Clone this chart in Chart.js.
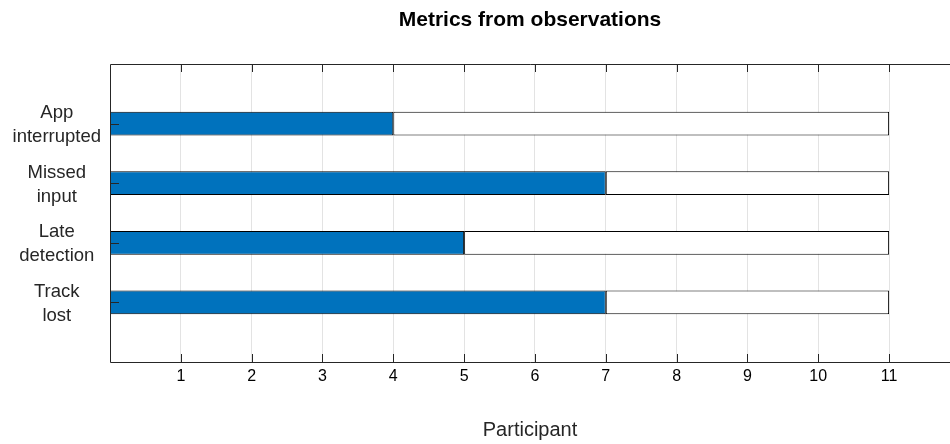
<!DOCTYPE html>
<html>
<head>
<meta charset="utf-8">
<title>Metrics from observations</title>
<script src="https://cdn.jsdelivr.net/npm/chart.js@4/dist/chart.umd.min.js"></script>
<style>
  html, body { margin: 0; padding: 0; background: #fff; }
  #wrap { position: relative; width: 950px; height: 444px; }
</style>
</head>
<body>
<div id="wrap"><canvas id="metrics"></canvas></div>
<script>
// categories listed bottom to top
const categories = [['Track', 'lost'], ['Late', 'detection'], ['Missed', 'input'], ['App', 'interrupted']];
const observedCounts = [7, 5, 7, 4];
const remainingCounts = [4, 6, 4, 7];
const participantTicks = [1, 2, 3, 4, 5, 6, 7, 8, 9, 10, 11];

const FONT = '"Liberation Sans", Arial, Helvetica, sans-serif';
const AXIS_COLOR = '#262626';

const rows = categories.map((_, i) => i + 1);

// MATLAB style box: top/left/bottom axis lines with inward ticks, plus the title
const axesBox = {
  id: 'axesBox',
  afterDraw(chart) {
    const { ctx, chartArea: a, scales: { x, y } } = chart;
    ctx.save();
    ctx.strokeStyle = AXIS_COLOR;
    ctx.lineWidth = 1;
    ctx.beginPath();
    ctx.moveTo(a.right, a.top + 0.5);
    ctx.lineTo(a.left + 0.5, a.top + 0.5);
    ctx.lineTo(a.left + 0.5, a.bottom + 0.5);
    ctx.lineTo(a.right, a.bottom + 0.5);
    participantTicks.forEach(v => {
      const px = Math.round(x.getPixelForValue(v)) + 0.5;
      ctx.moveTo(px, a.top);
      ctx.lineTo(px, a.top + 8);
      ctx.moveTo(px, a.bottom);
      ctx.lineTo(px, a.bottom - 8);
    });
    rows.forEach(v => {
      const py = Math.round(y.getPixelForValue(v)) + 0.5;
      ctx.moveTo(a.left, py);
      ctx.lineTo(a.left + 9, py);
    });
    ctx.stroke();

    ctx.fillStyle = '#000';
    ctx.font = 'bold 21px ' + FONT;
    ctx.textAlign = 'center';
    ctx.textBaseline = 'middle';
    ctx.fillText('Metrics from observations', (a.left + a.right) / 2, 20);
    ctx.restore();
  }
};

new Chart(document.getElementById('metrics'), {
  type: 'bar',
  data: {
    datasets: [
      {
        label: 'Observed',
        data: rows.map((r, i) => ({ x: observedCounts[i], y: r })),
        backgroundColor: '#0072BD',
        borderColor: '#000',
        borderWidth: 1,
        borderSkipped: false,
        barPercentage: 0.4,
        categoryPercentage: 1
      },
      {
        label: 'Remaining',
        data: rows.map((r, i) => ({ x: remainingCounts[i], y: r })),
        backgroundColor: '#fff',
        borderColor: '#000',
        borderWidth: 1,
        borderSkipped: false,
        barPercentage: 0.4,
        categoryPercentage: 1
      }
    ]
  },
  options: {
    indexAxis: 'y',
    responsive: true,
    maintainAspectRatio: false,
    animation: false,
    events: [],
    layout: { padding: { top: 64, right: 0, bottom: 0, left: 0 } },
    plugins: { legend: { display: false }, tooltip: { enabled: false }, title: { display: false } },
    scales: {
      x: {
        type: 'linear',
        stacked: true,
        min: 0,
        max: 11.86,
        afterBuildTicks(scale) { scale.ticks = participantTicks.map(v => ({ value: v })); },
        afterFit(scale) { scale.height = 82; },
        border: { display: false },
        grid: { color: '#e3e3e3', drawTicks: false, lineWidth: 1 },
        ticks: {
          color: '#000',
          padding: 5,
          maxRotation: 0,
          font: { family: FONT, size: 16 }
        },
        title: {
          display: true,
          text: 'Participant',
          color: '#262626',
          padding: { top: 0, bottom: 2 },
          font: { family: FONT, size: 20 }
        }
      },
      y: {
        type: 'linear',
        stacked: true,
        offset: false,
        min: 0,
        max: 5,
        afterBuildTicks(scale) { scale.ticks = rows.map(v => ({ value: v })); },
        afterFit(scale) { scale.width = 110; },
        border: { display: false },
        grid: { display: false, drawTicks: false, offset: false },
        ticks: {
          color: '#262626',
          padding: 9,
          crossAlign: 'center',
          labelOffset: 1.5,
          font: { family: FONT, size: 18.5, lineHeight: 1.3 },
          callback: v => categories[v - 1] || ''
        }
      }
    }
  },
  plugins: [axesBox]
});
</script>
</body>
</html>
